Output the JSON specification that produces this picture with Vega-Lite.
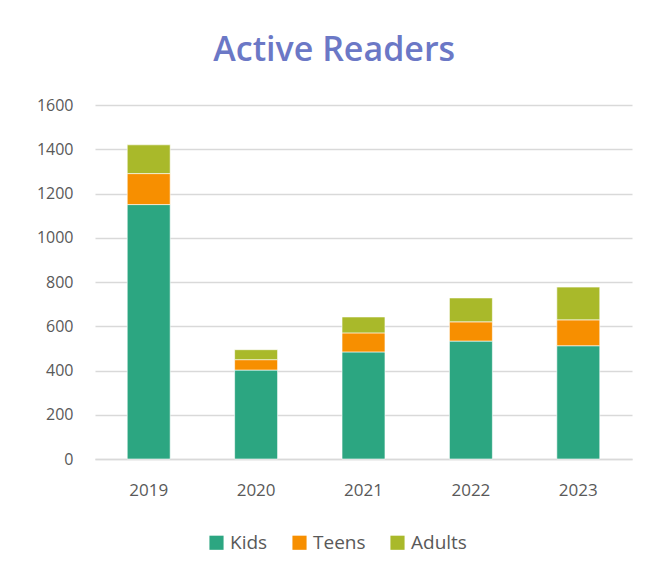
{
  "$schema": "https://vega.github.io/schema/vega-lite/v6.json",
  "autosize": {"type": "none"},
  "width": 537,
  "height": 354,
  "padding": {"left": 95, "top": 105, "right": 29, "bottom": 122},
  "background": "white",
  "title": {
    "text": "Active Readers",
    "fontSize": 34,
    "font": "Open Sans",
    "fontWeight": 600,
    "color": "#6B78C6",
    "anchor": "middle",
    "frame": "bounds",
    "offset": 29
  },
  "data": {
    "values": [
      {"year": "2019", "group": "Kids", "readers": 1150},
      {"year": "2019", "group": "Teens", "readers": 140},
      {"year": "2019", "group": "Adults", "readers": 130},
      {"year": "2020", "group": "Kids", "readers": 402},
      {"year": "2020", "group": "Teens", "readers": 47},
      {"year": "2020", "group": "Adults", "readers": 45},
      {"year": "2021", "group": "Kids", "readers": 484},
      {"year": "2021", "group": "Teens", "readers": 86},
      {"year": "2021", "group": "Adults", "readers": 72},
      {"year": "2022", "group": "Kids", "readers": 533},
      {"year": "2022", "group": "Teens", "readers": 87},
      {"year": "2022", "group": "Adults", "readers": 108},
      {"year": "2023", "group": "Kids", "readers": 512},
      {"year": "2023", "group": "Teens", "readers": 117},
      {"year": "2023", "group": "Adults", "readers": 148}
    ]
  },
  "transform": [
    {"calculate": "indexof(['Kids','Teens','Adults'], datum.group)", "as": "stackOrder"}
  ],
  "mark": {"type": "bar", "stroke": "white", "strokeWidth": 1, "strokeOpacity": 0.6},
  "encoding": {
    "x": {
      "field": "year",
      "type": "nominal",
      "title": null,
      "scale": {"paddingInner": 0.6, "paddingOuter": 0.3},
      "axis": {
        "labelAngle": 0,
        "labelFontSize": 17,
        "labelFont": "Open Sans",
        "labelColor": "#595959",
        "labelPadding": 23,
        "ticks": false,
        "domainColor": "#D9D9D9",
        "domainWidth": 1.5
      }
    },
    "y": {
      "field": "readers",
      "type": "quantitative",
      "title": null,
      "stack": "zero",
      "scale": {"domain": [0, 1600]},
      "axis": {
        "values": [0, 200, 400, 600, 800, 1000, 1200, 1400, 1600],
        "format": "d",
        "labelFontSize": 16,
        "labelFont": "Open Sans",
        "labelColor": "#595959",
        "labelPadding": 22,
        "ticks": false,
        "domain": false,
        "gridColor": "#D9D9D9",
        "gridWidth": 1.5
      }
    },
    "color": {
      "field": "group",
      "type": "nominal",
      "sort": ["Kids", "Teens", "Adults"],
      "scale": {"domain": ["Kids", "Teens", "Adults"], "range": ["#2CA681", "#F78F00", "#A9B92A"]},
      "legend": {
        "title": null,
        "orient": "none",
        "legendX": 112,
        "legendY": 428,
        "direction": "horizontal",
        "symbolType": "square",
        "symbolSize": 200,
        "symbolStrokeWidth": 0,
        "labelFontSize": 19,
        "labelFont": "Open Sans",
        "labelColor": "#595959",
        "columnPadding": 22
      }
    },
    "order": {"field": "stackOrder", "type": "quantitative", "sort": "ascending"}
  },
  "config": {
    "view": {"stroke": null}
  }
}
